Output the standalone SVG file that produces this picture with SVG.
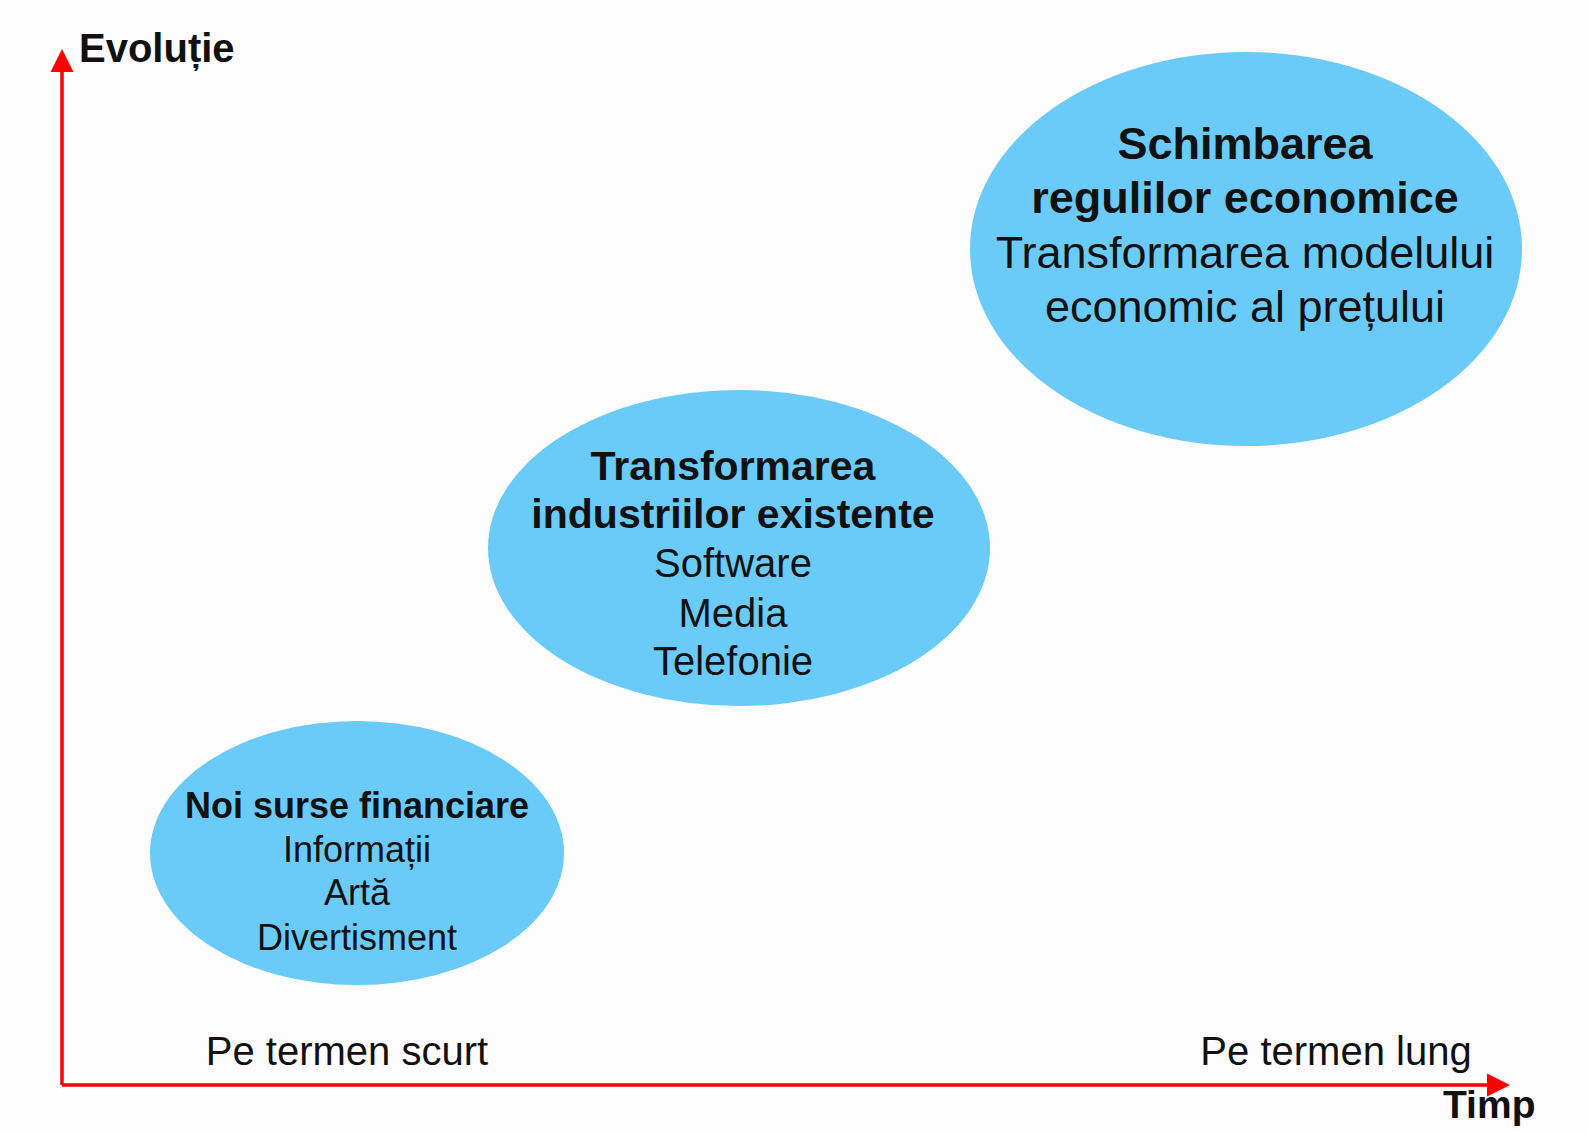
<svg xmlns="http://www.w3.org/2000/svg" width="1588" height="1133" viewBox="0 0 1588 1133">
<style>
text{font-family:"Liberation Sans",Arial,sans-serif;fill:#111;text-anchor:middle}
.b{font-weight:bold}
.axis{stroke:#FF0000;stroke-width:3.5;fill:none}
.bubble{fill:#6ACAF8}
</style>
<defs>
<marker id="ah" markerUnits="userSpaceOnUse" markerWidth="24" markerHeight="24" refX="0" refY="11.5" orient="auto" viewBox="0 0 24 23">
<path d="M0,0 L23,11.5 L0,23 Z" fill="#FF0000"/>
</marker>
</defs>
<rect width="1588" height="1133" fill="#FBFCFB"/>
<g id="connectors">
<path class="axis" d="M62,1085 L62,72" marker-end="url(#ah)"/>
<path class="axis" d="M62,1085 L1487,1085" marker-end="url(#ah)"/>
</g>
<g id="axis-labels">
<text class="b" x="79" y="62" font-size="40" style="text-anchor:start">Evoluție</text>
<text class="b" x="1443" y="1118" font-size="39" style="text-anchor:start">Timp</text>
<text x="347" y="1065" font-size="40">Pe termen scurt</text>
<text x="1336" y="1065" font-size="40">Pe termen lung</text>
</g>
<g id="node-noi-surse">
<ellipse class="bubble" cx="357" cy="853" rx="207" ry="132"/>
<text class="b" x="357" y="818" font-size="36">Noi surse financiare</text>
<text x="357" y="862" font-size="36">Informații</text>
<text x="357" y="905" font-size="36">Artă</text>
<text x="357" y="950" font-size="36">Divertisment</text>
</g>
<g id="node-transformarea">
<ellipse class="bubble" cx="739" cy="548" rx="251" ry="158"/>
<text class="b" x="733" y="480" font-size="41">Transformarea</text>
<text class="b" x="733" y="528" font-size="41">industriilor existente</text>
<text x="733" y="577" font-size="40">Software</text>
<text x="733" y="627" font-size="40">Media</text>
<text x="733" y="675" font-size="40">Telefonie</text>
</g>
<g id="node-schimbarea">
<ellipse class="bubble" cx="1246" cy="249" rx="276" ry="197"/>
<text class="b" x="1245" y="159" font-size="45">Schimbarea</text>
<text class="b" x="1245" y="213" font-size="45">regulilor economice</text>
<text x="1245" y="268" font-size="45">Transformarea modelului</text>
<text x="1245" y="322" font-size="45">economic al prețului</text>
</g>
</svg>
